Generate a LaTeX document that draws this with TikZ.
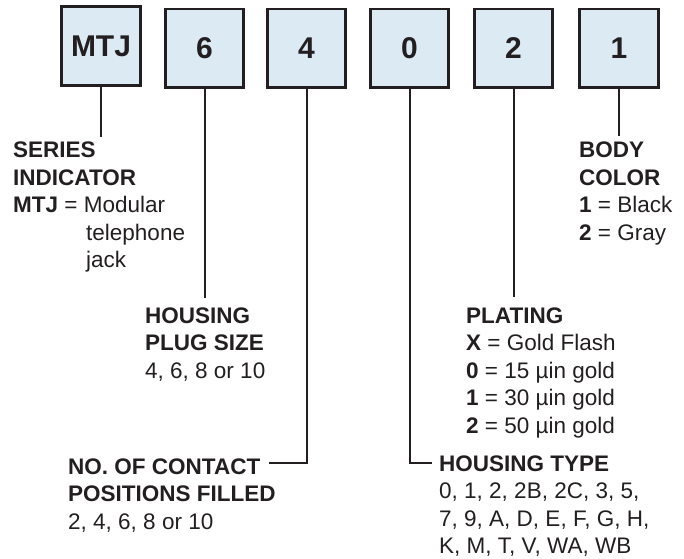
\documentclass[tikz,border=0pt]{standalone}
\usepackage{fontspec}
\setmainfont{Liberation Sans}
\definecolor{ink}{HTML}{231F20}
\definecolor{boxfill}{HTML}{DCEAF4}
\begin{document}
\begin{tikzpicture}[x=1pt,y=-1pt,
  codebox/.style={draw=ink,line width=2.7pt,fill=boxfill,minimum width=78.5pt,minimum height=78.5pt,inner sep=0pt,text=ink,font=\fontsize{30}{36}\selectfont\bfseries},
  lead/.style={draw=ink,line width=2pt},
  txt/.style={anchor=base west,inner sep=0pt,text=ink,font=\fontsize{22.5}{27.5}\selectfont},
  hd/.style={txt,font=\fontsize{22.5}{27.5}\selectfont\bfseries}]
\useasboundingbox (0,0) rectangle (684,558);
% code boxes
\node[codebox] (bM) at (101,46) {MTJ};
\node[codebox] (b6) at (204.5,48.3) {6};
\node[codebox] (b4) at (306.5,48.3) {4};
\node[codebox] (b0) at (409.5,48.3) {0};
\node[codebox] (b2) at (513.5,48.3) {2};
\node[codebox] (b1) at (619,48.3) {1};
% connector ends
\coordinate (eM) at (101,137);
\coordinate (e6) at (205,298);
\coordinate (e2) at (514,297);
\coordinate (e1) at (619,136);
\coordinate (e4) at (269,463);
\coordinate (e0) at (432,463);
\draw[lead] (bM.south) -- (bM.south |- eM);
\draw[lead] (b6.south) -- (b6.south |- e6);
\draw[lead] (b2.south) -- (b2.south |- e2);
\draw[lead] (b1.south) -- (b1.south |- e1);
\draw[lead] (b4.south) |- (e4);
\draw[lead] (b0.south) |- (e0);
% series indicator
\node[hd] (s1) at (13,157) {SERIES};
\node[hd] (s2) at (13,185) {INDICATOR};
\node[txt] (s3) at (13,212.5) {\textbf{MTJ} = Modular};
\node[txt] (s4) at (86,240) {telephone};
\node[txt] (s5) at (86,267.5) {jack};
% housing plug size
\node[hd] (p1) at (145,323) {HOUSING};
\node[hd] (p2) at (145,350.5) {PLUG SIZE};
\node[txt] (p3) at (145,378) {4, 6, 8 or 10};
% plating
\node[hd] (l1) at (466,323) {PLATING};
\node[txt] (l2) at (466,350.5) {\textbf{X} = Gold Flash};
\node[txt] (l3) at (466,378) {\textbf{0} = 15 µin gold};
\node[txt] (l4) at (466,405.5) {\textbf{1} = 30 µin gold};
\node[txt] (l5) at (466,433) {\textbf{2} = 50 µin gold};
% body color
\node[hd] (c1) at (579,157) {BODY};
\node[hd] (c2) at (579,185) {COLOR};
\node[txt] (c3) at (579,212.5) {\textbf{1} = Black};
\node[txt] (c4) at (579,240) {\textbf{2} = Gray};
% contact positions
\node[hd] (n1) at (68,474) {NO. OF CONTACT};
\node[hd] (n2) at (68,501.5) {POSITIONS FILLED};
\node[txt] (n3) at (68,529) {2, 4, 6, 8 or 10};
% housing type
\node[hd] (t1) at (439,471) {HOUSING TYPE};
\node[txt] (t2) at (439,498.5) {0, 1, 2, 2B, 2C, 3, 5,};
\node[txt] (t3) at (439,526) {7, 9, A, D, E, F, G, H,};
\node[txt] (t4) at (439,553.5) {K, M, T, V, WA, WB};
\end{tikzpicture}
\end{document}
